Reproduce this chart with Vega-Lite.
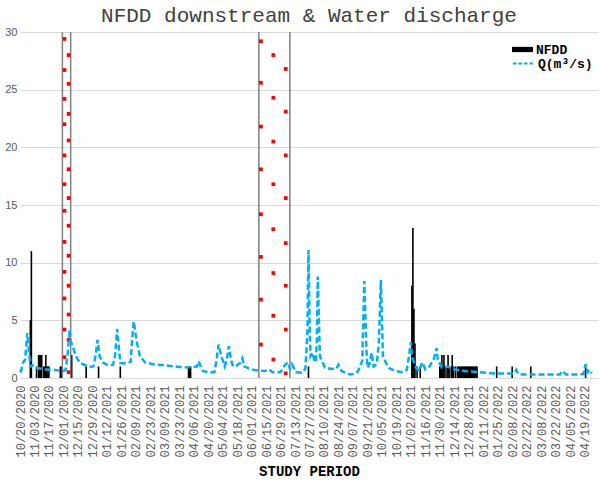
{
  "$schema": "https://vega.github.io/schema/vega-lite/v6.json",
  "width": 578,
  "height": 346,
  "autosize": {"type": "none"},
  "padding": {"left": 20, "top": 32, "right": 2, "bottom": 103},
  "background": "white",
  "title": {"text": "NFDD downstream & Water discharge", "font": "Liberation Mono", "fontSize": 21, "fontWeight": "normal", "color": "#404040", "anchor": "middle", "baseline": "alphabetic", "offset": -17},
  "config": {"view": {"stroke": null}},
  "datasets": {
    "q": [
      {"date": "2020-10-20", "v": 0.5}, {"date": "2020-10-21", "v": 0.6}, {"date": "2020-10-23", "v": 1.35}, {"date": "2020-10-25", "v": 1.6},
      {"date": "2020-10-27", "v": 3.9}, {"date": "2020-10-28", "v": 3.0}, {"date": "2020-10-30", "v": 1.0}, {"date": "2020-11-01", "v": 1.1},
      {"date": "2020-11-03", "v": 0.9}, {"date": "2020-11-13", "v": 0.75}, {"date": "2020-11-23", "v": 0.7}, {"date": "2020-11-30", "v": 0.6},
      {"date": "2020-12-03", "v": 0.65}, {"date": "2020-12-05", "v": 2.0}, {"date": "2020-12-07", "v": 4.2}, {"date": "2020-12-08", "v": 3.2},
      {"date": "2020-12-10", "v": 2.75}, {"date": "2020-12-13", "v": 1.9}, {"date": "2020-12-17", "v": 1.3}, {"date": "2020-12-21", "v": 1.15},
      {"date": "2020-12-26", "v": 0.95}, {"date": "2020-12-30", "v": 1.0}, {"date": "2021-01-01", "v": 1.9}, {"date": "2021-01-03", "v": 3.3},
      {"date": "2021-01-05", "v": 1.9}, {"date": "2021-01-08", "v": 1.35}, {"date": "2021-01-13", "v": 1.1}, {"date": "2021-01-18", "v": 1.15},
      {"date": "2021-01-20", "v": 2.0}, {"date": "2021-01-22", "v": 4.25}, {"date": "2021-01-24", "v": 2.3}, {"date": "2021-01-25", "v": 1.3},
      {"date": "2021-01-31", "v": 1.25}, {"date": "2021-02-04", "v": 1.4}, {"date": "2021-02-05", "v": 2.8}, {"date": "2021-02-07", "v": 4.9},
      {"date": "2021-02-10", "v": 3.1}, {"date": "2021-02-13", "v": 1.9}, {"date": "2021-02-18", "v": 1.35}, {"date": "2021-02-27", "v": 1.17},
      {"date": "2021-03-09", "v": 1.1}, {"date": "2021-03-19", "v": 1.0}, {"date": "2021-03-28", "v": 0.9}, {"date": "2021-04-04", "v": 0.95},
      {"date": "2021-04-09", "v": 1.0}, {"date": "2021-04-11", "v": 1.45}, {"date": "2021-04-13", "v": 0.9}, {"date": "2021-04-15", "v": 0.6},
      {"date": "2021-04-21", "v": 0.5}, {"date": "2021-04-26", "v": 0.5}, {"date": "2021-04-28", "v": 1.5}, {"date": "2021-04-30", "v": 2.9},
      {"date": "2021-05-03", "v": 1.8}, {"date": "2021-05-06", "v": 1.0}, {"date": "2021-05-08", "v": 1.6}, {"date": "2021-05-10", "v": 2.75},
      {"date": "2021-05-12", "v": 1.6}, {"date": "2021-05-14", "v": 1.0}, {"date": "2021-05-18", "v": 1.1}, {"date": "2021-05-21", "v": 1.3},
      {"date": "2021-05-23", "v": 1.7}, {"date": "2021-05-25", "v": 1.0}, {"date": "2021-05-31", "v": 0.75}, {"date": "2021-06-07", "v": 0.65},
      {"date": "2021-06-14", "v": 0.6}, {"date": "2021-06-18", "v": 0.75}, {"date": "2021-06-21", "v": 0.5}, {"date": "2021-06-29", "v": 0.5},
      {"date": "2021-07-03", "v": 1.1}, {"date": "2021-07-06", "v": 1.35}, {"date": "2021-07-08", "v": 0.8}, {"date": "2021-07-10", "v": 1.2},
      {"date": "2021-07-14", "v": 0.5}, {"date": "2021-07-20", "v": 0.45}, {"date": "2021-07-23", "v": 0.8}, {"date": "2021-07-25", "v": 4.0},
      {"date": "2021-07-26", "v": 11.1}, {"date": "2021-07-27", "v": 5.0}, {"date": "2021-07-28", "v": 1.9}, {"date": "2021-07-30", "v": 2.2},
      {"date": "2021-08-01", "v": 1.35}, {"date": "2021-08-02", "v": 1.5}, {"date": "2021-08-03", "v": 3.0}, {"date": "2021-08-04", "v": 8.8},
      {"date": "2021-08-06", "v": 1.9}, {"date": "2021-08-11", "v": 0.9}, {"date": "2021-08-16", "v": 0.8}, {"date": "2021-08-22", "v": 0.8},
      {"date": "2021-08-24", "v": 1.15}, {"date": "2021-08-27", "v": 0.6}, {"date": "2021-09-04", "v": 0.3}, {"date": "2021-09-09", "v": 0.35},
      {"date": "2021-09-12", "v": 0.6}, {"date": "2021-09-16", "v": 1.5}, {"date": "2021-09-18", "v": 8.4}, {"date": "2021-09-20", "v": 2.5},
      {"date": "2021-09-21", "v": 0.9}, {"date": "2021-09-23", "v": 1.2}, {"date": "2021-09-25", "v": 2.2}, {"date": "2021-09-27", "v": 1.0},
      {"date": "2021-09-30", "v": 1.2}, {"date": "2021-10-02", "v": 3.0}, {"date": "2021-10-04", "v": 8.5}, {"date": "2021-10-06", "v": 1.9},
      {"date": "2021-10-11", "v": 0.9}, {"date": "2021-10-18", "v": 0.6}, {"date": "2021-10-25", "v": 0.5}, {"date": "2021-10-29", "v": 0.7},
      {"date": "2021-10-31", "v": 1.8}, {"date": "2021-11-02", "v": 3.1}, {"date": "2021-11-03", "v": 1.9}, {"date": "2021-11-05", "v": 1.35},
      {"date": "2021-11-07", "v": 0.9}, {"date": "2021-11-10", "v": 0.6}, {"date": "2021-11-13", "v": 1.35}, {"date": "2021-11-16", "v": 0.75},
      {"date": "2021-11-20", "v": 1.0}, {"date": "2021-11-24", "v": 1.6}, {"date": "2021-11-27", "v": 2.6}, {"date": "2021-11-28", "v": 1.6},
      {"date": "2021-12-02", "v": 0.9}, {"date": "2021-12-08", "v": 1.0}, {"date": "2021-12-14", "v": 0.75}, {"date": "2021-12-24", "v": 0.6},
      {"date": "2022-01-08", "v": 0.5}, {"date": "2022-01-22", "v": 0.4}, {"date": "2022-02-06", "v": 0.4}, {"date": "2022-02-10", "v": 0.4},
      {"date": "2022-02-12", "v": 0.7}, {"date": "2022-02-14", "v": 0.35}, {"date": "2022-02-20", "v": 0.3}, {"date": "2022-03-07", "v": 0.3},
      {"date": "2022-03-26", "v": 0.3}, {"date": "2022-03-29", "v": 0.6}, {"date": "2022-04-01", "v": 0.3}, {"date": "2022-04-10", "v": 0.3},
      {"date": "2022-04-18", "v": 0.35}, {"date": "2022-04-20", "v": 1.2}, {"date": "2022-04-22", "v": 0.5}, {"date": "2022-04-24", "v": 0.7},
      {"date": "2022-04-26", "v": 0.4}
    ],
    "nfdd": [
      {"date": "2020-10-30", "v": 5}, {"date": "2020-10-31", "v": 11}, {"date": "2020-11-05", "v": 1}, {"date": "2020-11-07", "v": 2},
      {"date": "2020-11-08", "v": 2}, {"date": "2020-11-09", "v": 2}, {"date": "2020-11-10", "v": 2}, {"date": "2020-11-12", "v": 1},
      {"date": "2020-11-13", "v": 1}, {"date": "2020-11-14", "v": 2}, {"date": "2020-11-15", "v": 1}, {"date": "2020-11-16", "v": 1},
      {"date": "2020-11-17", "v": 1}, {"date": "2020-11-28", "v": 1}, {"date": "2020-11-29", "v": 1}, {"date": "2020-12-09", "v": 2},
      {"date": "2020-12-23", "v": 1}, {"date": "2021-01-04", "v": 1}, {"date": "2021-01-25", "v": 1}, {"date": "2021-04-01", "v": 1},
      {"date": "2021-04-02", "v": 1}, {"date": "2021-04-03", "v": 1}, {"date": "2021-07-26", "v": 1}, {"date": "2021-11-03", "v": 8},
      {"date": "2021-11-04", "v": 13}, {"date": "2021-11-05", "v": 6}, {"date": "2021-11-06", "v": 3}, {"date": "2021-11-08", "v": 1},
      {"date": "2021-11-11", "v": 1}, {"date": "2021-11-30", "v": 1}, {"date": "2021-12-01", "v": 1}, {"date": "2021-12-02", "v": 2},
      {"date": "2021-12-03", "v": 1}, {"date": "2021-12-04", "v": 2}, {"date": "2021-12-05", "v": 1}, {"date": "2021-12-07", "v": 1},
      {"date": "2021-12-08", "v": 2}, {"date": "2021-12-09", "v": 1}, {"date": "2021-12-11", "v": 1}, {"date": "2021-12-12", "v": 2},
      {"date": "2021-12-13", "v": 1}, {"date": "2021-12-15", "v": 1}, {"date": "2021-12-17", "v": 1}, {"date": "2021-12-18", "v": 1},
      {"date": "2021-12-19", "v": 1}, {"date": "2021-12-20", "v": 1}, {"date": "2021-12-21", "v": 1}, {"date": "2021-12-22", "v": 1},
      {"date": "2021-12-23", "v": 1}, {"date": "2021-12-24", "v": 1}, {"date": "2021-12-25", "v": 1}, {"date": "2021-12-26", "v": 1},
      {"date": "2021-12-27", "v": 1}, {"date": "2021-12-28", "v": 1}, {"date": "2021-12-29", "v": 1}, {"date": "2021-12-30", "v": 1},
      {"date": "2021-12-31", "v": 1}, {"date": "2022-01-01", "v": 1}, {"date": "2022-01-02", "v": 1}, {"date": "2022-01-03", "v": 1},
      {"date": "2022-01-04", "v": 1}, {"date": "2022-01-05", "v": 1}, {"date": "2022-01-24", "v": 1}, {"date": "2022-02-08", "v": 1},
      {"date": "2022-02-26", "v": 1}, {"date": "2022-04-20", "v": 1}
    ],
    "rules": [
      {"date": "2020-11-30"}, {"date": "2020-12-08"}, {"date": "2021-06-08"}, {"date": "2021-07-08"}
    ],
    "dots": [
      {"date": "2020-12-02", "v": 29.4}, {"date": "2020-12-06", "v": 28.0}, {"date": "2020-12-02", "v": 26.7}, {"date": "2020-12-06", "v": 25.5},
      {"date": "2020-12-02", "v": 24.2}, {"date": "2020-12-06", "v": 22.9}, {"date": "2020-12-02", "v": 22.0}, {"date": "2020-12-06", "v": 20.6},
      {"date": "2020-12-02", "v": 19.3}, {"date": "2020-12-06", "v": 18.1}, {"date": "2020-12-02", "v": 16.8}, {"date": "2020-12-06", "v": 15.6},
      {"date": "2020-12-02", "v": 14.5}, {"date": "2020-12-06", "v": 13.2}, {"date": "2020-12-02", "v": 11.8}, {"date": "2020-12-06", "v": 10.6},
      {"date": "2020-12-02", "v": 9.2}, {"date": "2020-12-06", "v": 8.0}, {"date": "2020-12-02", "v": 6.9}, {"date": "2020-12-06", "v": 5.5},
      {"date": "2020-12-02", "v": 4.2}, {"date": "2020-12-06", "v": 3.3}, {"date": "2020-12-02", "v": 1.8}, {"date": "2020-12-06", "v": 0.5},
      {"date": "2021-06-10", "v": 29.2}, {"date": "2021-06-22", "v": 28.0}, {"date": "2021-07-04", "v": 26.8}, {"date": "2021-06-10", "v": 25.6},
      {"date": "2021-06-22", "v": 24.3}, {"date": "2021-07-04", "v": 23.1}, {"date": "2021-06-10", "v": 21.8}, {"date": "2021-06-22", "v": 20.5},
      {"date": "2021-07-04", "v": 19.3}, {"date": "2021-06-10", "v": 18.1}, {"date": "2021-06-22", "v": 16.8}, {"date": "2021-07-04", "v": 15.6},
      {"date": "2021-06-10", "v": 14.2}, {"date": "2021-06-22", "v": 12.9}, {"date": "2021-07-04", "v": 11.7}, {"date": "2021-06-10", "v": 10.5},
      {"date": "2021-06-22", "v": 9.1}, {"date": "2021-07-04", "v": 8.0}, {"date": "2021-06-10", "v": 6.8}, {"date": "2021-06-22", "v": 5.4},
      {"date": "2021-07-04", "v": 4.2}, {"date": "2021-06-10", "v": 2.9}, {"date": "2021-06-22", "v": 1.6}, {"date": "2021-07-04", "v": 0.4}
    ]
  },
  "encoding": {
    "x": {
      "field": "date", "type": "temporal", "title": "STUDY PERIOD",
      "scale": {"type": "utc", "padding": 0, "domain": [{"year": 2020, "month": 10, "date": 20, "utc": true}, {"year": 2022, "month": 5, "date": 2, "utc": true}]},
      "axis": {
        "values": [1603152000000, 1604361600000, 1605571200000, 1606780800000, 1607990400000, 1609200000000, 1610409600000, 1611619200000, 1612828800000, 1614038400000, 1615248000000, 1616457600000, 1617667200000, 1618876800000, 1620086400000, 1621296000000, 1622505600000, 1623715200000, 1624924800000, 1626134400000, 1627344000000, 1628553600000, 1629763200000, 1630972800000, 1632182400000, 1633392000000, 1634601600000, 1635811200000, 1637020800000, 1638230400000, 1639440000000, 1640649600000, 1641859200000, 1643068800000, 1644278400000, 1645488000000, 1646697600000, 1647907200000, 1649116800000, 1650326400000],
        "format": "%m/%d/%Y", "labelAngle": -90, "labelFont": "Liberation Mono", "labelFontSize": 12, "labelColor": "#595959",
        "labelPadding": 7, "labelOverlap": false, "labelBound": false, "labelFlush": false, "ticks": false, "grid": false, "domainColor": "#d9d9d9",
        "titleFont": "Liberation Mono", "titleFontSize": 14, "titleFontWeight": "bold", "titleColor": "#000000", "titleY": 97, "titleBaseline": "alphabetic"
      }
    }
  },
  "layer": [
    {
      "data": {"name": "nfdd"},
      "mark": {"type": "bar", "width": 1.6},
      "encoding": {
        "y": {
          "field": "v", "type": "quantitative", "title": null,
          "scale": {"domain": [0, 30], "nice": false},
          "axis": {"values": [0, 5, 10, 15, 20, 25, 30], "grid": true, "gridColor": "#d9d9d9", "domain": false, "ticks": false,
                   "labelFont": "Liberation Sans", "labelFontSize": 11, "labelColor": "#595959", "labelPadding": 3}
        },
        "fill": {"datum": "NFDD", "type": "nominal", "scale": {"range": ["#000000"]},
                 "legend": {"title": null, "orient": "none", "legendX": 492, "legendY": 7, "padding": 0,
                            "symbolType": "M-1,-0.25H1V0.25H-1Z", "symbolSize": 441, "symbolStrokeWidth": 0,
                            "labelFont": "Liberation Mono", "labelFontWeight": "bold", "labelFontSize": 13, "labelColor": "#000000", "labelOffset": 3}}
      }
    },
    {
      "data": {"name": "rules"},
      "mark": {"type": "rule", "color": "#7f7f7f", "strokeWidth": 1.5},
      "encoding": {}
    },
    {
      "data": {"name": "dots"},
      "mark": {"type": "point", "shape": "square", "filled": true, "color": "#ff0000", "size": 14, "opacity": 1},
      "encoding": {
        "y": {"field": "v", "type": "quantitative", "title": null}
      }
    },
    {
      "data": {"name": "q"},
      "mark": {"type": "line", "strokeWidth": 2.5, "strokeDash": [6, 3]},
      "encoding": {
        "y": {"field": "v", "type": "quantitative", "title": null},
        "stroke": {"datum": "Q(m³/s)", "type": "nominal", "scale": {"range": ["#00b0f0"]},
                   "legend": {"title": null, "orient": "none", "legendX": 492, "legendY": 20, "padding": 0,
                              "symbolType": "stroke", "symbolSize": 441, "symbolStrokeWidth": 2, "symbolDash": [3.5, 2],
                              "labelFont": "Liberation Mono", "labelFontWeight": "bold", "labelFontSize": 13, "labelColor": "#000000", "labelOffset": 3}}
      }
    }
  ]
}
